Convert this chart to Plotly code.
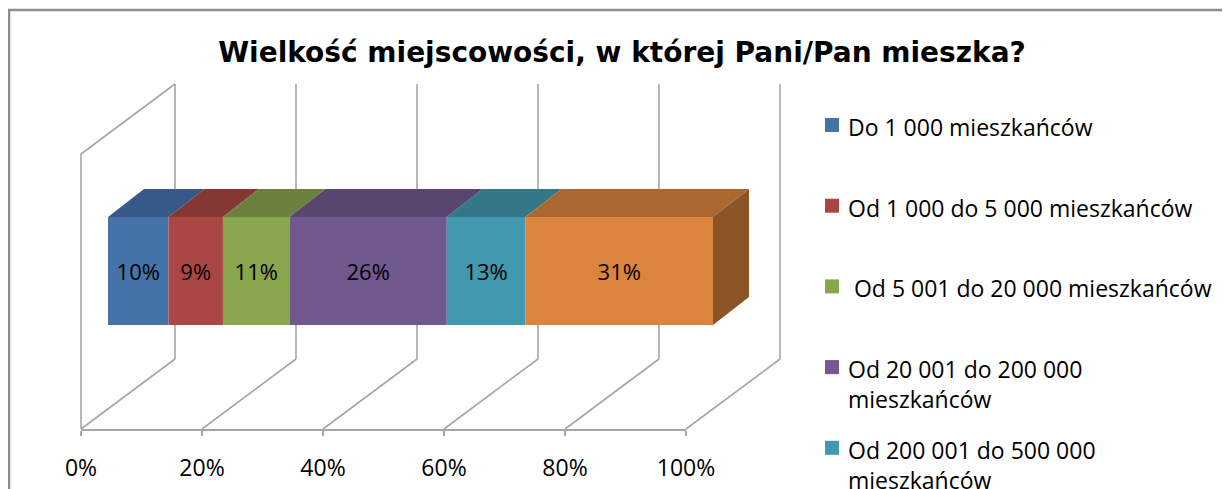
import plotly.graph_objects as go
import textwrap

# ---------------- data ----------------
categories = [
    "Do 1 000 mieszkańców",
    "Od 1 000 do 5 000 mieszkańców",
    " Od 5 001 do 20 000 mieszkańców",
    "Od 20 001 do 200 000 mieszkańców",
    "Od 200 001 do 500 000 mieszkańców",
    "Powyżej 500 000 mieszkańców",
]
values = [10, 9, 11, 26, 13, 31]
tick_values = [0, 20, 40, 60, 80, 100]
tick_labels = ["0%", "20%", "40%", "60%", "80%", "100%"]
title_text = "Wielkość miejscowości, w której Pani/Pan mieszka?"

# ---------------- styles ----------------
front_colors = ["#4572A7", "#AA4643", "#89A54E", "#71588F", "#4198AF", "#DB843D"]
top_colors = ["#36598A", "#853734", "#6B813D", "#584570", "#337789", "#AB6730"]
side_color = "#8C5527"
grid_color = "#A6A6A6"

W, H = 1230, 489
OFF = 8                     # page (body) margin compensation
PX_PER_UNIT = 6.05          # pixels per percent on the front axis
AX0 = 81 - OFF              # figure x of 0% on the front axis
FLOOR_FRONT_Y = 429 - OFF
FLOOR_BACK_Y = 359 - OFF
WALL_TOP = 84 - OFF
LEFT_TOP_Y = 154 - OFF
FX = 94 / PX_PER_UNIT       # depth offset of the floor (in % units)
BAR_OFF = 27 / PX_PER_UNIT
BAR_TOP, BAR_BOT = 217 - OFF, 325 - OFF
BDX = 36 / PX_PER_UNIT
BDY = -28


def px(x):
    """screen pixel x -> paper fraction"""
    return (x - OFF) / W


def py(y):
    """screen pixel y -> paper fraction"""
    return 1 - (y - OFF) / H


fig = go.Figure()

# invisible helper so the front-axis subplot exists
fig.add_trace(go.Scatter(x=[tick_values[0], tick_values[-1]], y=[0, 0], mode="markers",
                         marker=dict(opacity=0), hoverinfo="skip", showlegend=False,
                         xaxis="x", yaxis="y"))

# front faces of the stacked 3D bar
starts = []
acc = 0
for v in values:
    starts.append(acc)
    acc += v
for i, (name, v) in enumerate(zip(categories, values)):
    fig.add_trace(go.Bar(
        x=[v], base=[BAR_OFF + starts[i]], y=[(BAR_TOP + BAR_BOT) / 2],
        width=BAR_BOT - BAR_TOP, orientation="h", name=name.strip(),
        marker=dict(color=front_colors[i], line=dict(width=0)),
        text=[f"{v}%"], textposition="inside", insidetextanchor="middle", textangle=0,
        textfont=dict(family="Open Sans", size=22, color="black"),
        showlegend=False, xaxis="x2", yaxis="y2", hoverinfo="skip",
    ))

# top faces
for i, v in enumerate(values):
    x0 = BAR_OFF + starts[i]
    x1 = x0 + v
    fig.add_trace(go.Scatter(
        x=[x0, x1, x1 + BDX, x0 + BDX, x0],
        y=[BAR_TOP, BAR_TOP, BAR_TOP + BDY, BAR_TOP + BDY, BAR_TOP],
        fill="toself", fillcolor=top_colors[i], mode="lines",
        line=dict(width=0, color=top_colors[i]), showlegend=False,
        hoverinfo="skip", xaxis="x2", yaxis="y2"))

# right side face
xe = BAR_OFF + sum(values)
fig.add_trace(go.Scatter(
    x=[xe, xe + BDX, xe + BDX, xe, xe],
    y=[BAR_TOP, BAR_TOP + BDY, BAR_BOT + BDY, BAR_BOT, BAR_TOP],
    fill="toself", fillcolor=side_color, mode="lines",
    line=dict(width=0, color=side_color), showlegend=False,
    hoverinfo="skip", xaxis="x2", yaxis="y2"))

shapes = []
gl = dict(color=grid_color, width=1.6)
for t in tick_values:
    shapes.append(dict(type="line", xref="x2", yref="y2", x0=t + FX, x1=t + FX,
                       y0=WALL_TOP, y1=FLOOR_BACK_Y, line=gl, layer="below"))
    shapes.append(dict(type="line", xref="x2", yref="y2", x0=t, x1=t + FX,
                       y0=FLOOR_FRONT_Y, y1=FLOOR_BACK_Y, line=gl, layer="below"))
shapes.append(dict(type="line", xref="x2", yref="y2", x0=0, x1=0,
                   y0=FLOOR_FRONT_Y, y1=LEFT_TOP_Y, line=gl, layer="below"))
shapes.append(dict(type="line", xref="x2", yref="y2", x0=0, x1=FX,
                   y0=LEFT_TOP_Y, y1=WALL_TOP, line=gl, layer="below"))

# chart border (extends past the right and bottom edges)
shapes.append(dict(type="rect", xref="paper", yref="paper", x0=px(9), y0=py(10),
                   x1=px(1260), y1=py(520), line=dict(color="#8C8C8C", width=2.5),
                   layer="below"))

# manual legend
annotations = []
LEG_Y0 = 127
LEG_STEP = 80.7
for i, name in enumerate(categories):
    cy = LEG_Y0 + i * LEG_STEP
    if cy > H:
        continue
    lines = textwrap.wrap(name.strip(), 31) if len(name) > 31 else [name]
    txt = "<br>".join(lines)
    if name.startswith(" "):
        txt = "\u00a0" + txt.strip()
    shapes.append(dict(type="rect", xref="paper", yref="paper", x0=px(825), x1=px(839),
                       y0=py(cy - 9), y1=py(cy + 5), fillcolor=front_colors[i],
                       line=dict(width=0)))
    annotations.append(dict(xref="paper", yref="paper", x=px(846), y=py(cy - 18),
                            xanchor="left", yanchor="top", align="left", showarrow=False,
                            text=txt, font=dict(family="Open Sans", size=23, color="black")))

fig.update_layout(
    width=W, height=H,
    margin=dict(l=0, r=0, t=0, b=0, autoexpand=False),
    paper_bgcolor="white", plot_bgcolor="rgba(0,0,0,0)",
    barmode="overlay",
    title=dict(text=title_text, x=(622 - OFF) / W, xanchor="center",
               y=1 - (52 - OFF) / H, yanchor="middle", automargin=False,
               font=dict(family="DejaVu Sans", size=28, color="black", weight="bold")),
    xaxis=dict(domain=[AX0 / W, (AX0 + 100 * PX_PER_UNIT) / W], range=[0, 100],
               tickvals=tick_values, ticktext=tick_labels, showgrid=False, zeroline=False,
               showline=True, linecolor=grid_color, linewidth=2, ticks="outside",
               ticklen=5, tickwidth=2, tickcolor=grid_color, ticklabelstandoff=12,
               tickfont=dict(family="Open Sans", size=23, color="black"),
               fixedrange=True, automargin=False),
    yaxis=dict(domain=[1 - FLOOR_FRONT_Y / H, 0.9], range=[0, 1], visible=False,
               fixedrange=True, automargin=False),
    xaxis2=dict(domain=[0, 1], range=[-AX0 / PX_PER_UNIT, (W - AX0) / PX_PER_UNIT],
                visible=False, anchor="y2", fixedrange=True, automargin=False),
    yaxis2=dict(domain=[0, 1], range=[H, 0], visible=False, anchor="x2",
                fixedrange=True, automargin=False),
    shapes=shapes, annotations=annotations, showlegend=False,
)

fig.write_html("out.html")
